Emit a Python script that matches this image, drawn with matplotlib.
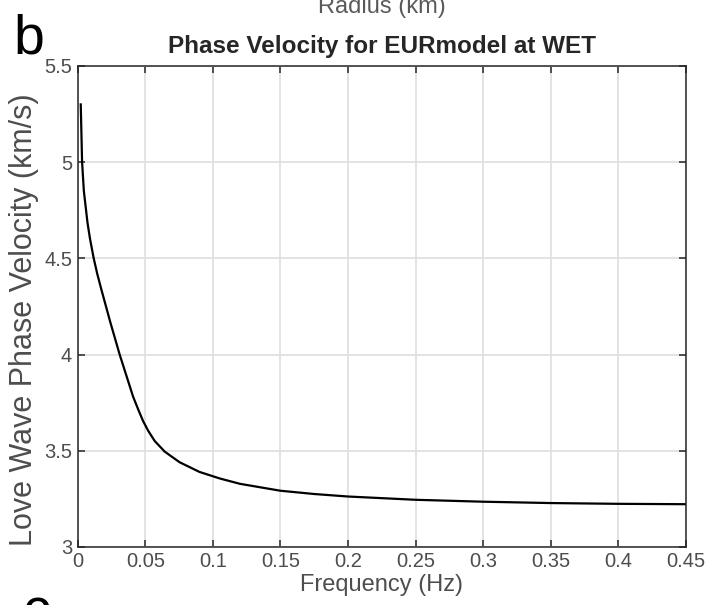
import matplotlib
matplotlib.use('Agg')
from matplotlib import pyplot as plt

# values
freq = [0.0022, 0.0027, 0.0032, 0.0045, 0.0072, 0.0091, 0.0118, 0.0144, 0.0175, 0.024,
        0.031, 0.036, 0.041, 0.045, 0.0483, 0.052, 0.057, 0.0644, 0.0754, 0.09,
        0.105, 0.12, 0.15, 0.175, 0.2, 0.25, 0.3, 0.35, 0.4, 0.45]
vel = [5.30, 5.15, 5.00, 4.85, 4.685, 4.60, 4.50, 4.42, 4.337, 4.17,
       4.00, 3.89, 3.78, 3.71, 3.655, 3.605, 3.55, 3.495, 3.44, 3.39,
       3.356, 3.328, 3.292, 3.275, 3.262, 3.245, 3.235, 3.228, 3.224, 3.222]
xticks = [0, 0.05, 0.1, 0.15, 0.2, 0.25, 0.3, 0.35, 0.4, 0.45]
xticklabels = ['0', '0.05', '0.1', '0.15', '0.2', '0.25', '0.3', '0.35', '0.4', '0.45']
yticks = [3, 3.5, 4, 4.5, 5, 5.5]
yticklabels = ['3', '3.5', '4', '4.5', '5', '5.5']

plt.rcParams['font.family'] = ['Liberation Sans', 'DejaVu Sans']

fig = plt.figure(figsize=(7.07, 6.05), dpi=100)
ax = fig.add_axes([0.110, 0.096, 0.860, 0.795])

ax.plot(freq, vel, color='black', linewidth=1.6)

ax.set_xlim(0, 0.45)
ax.set_ylim(3, 5.5)
ax.set_xticks(xticks)
ax.set_xticklabels(xticklabels)
ax.set_yticks(yticks)
ax.set_yticklabels(yticklabels)

ax.grid(True, color='#e0e0e0', linewidth=1.3)
ax.set_axisbelow(True)
for s in ax.spines.values():
    s.set_color('#262626')
    s.set_linewidth(1.1)
ax.tick_params(direction='in', length=5, width=1.1, top=True, right=True,
               color='#262626', labelcolor='#4d4d4d', labelsize=14.5, pad=4)

ax.set_xlabel('Frequency (Hz)', fontsize=17, color='#4d4d4d', labelpad=2)
ax.set_ylabel('Love Wave Phase Velocity (km/s)', fontsize=22, color='#4d4d4d')
ax.yaxis.set_label_coords(-0.064, 0.472)
ax.set_title('Phase Velocity for EURmodel at WET', fontsize=17.5, fontweight='bold',
             color='#262626', pad=9)

# neighbouring panel pieces cut by the crop
fig.text(382 / 707, 1 - 13 / 605, 'Radius (km)', fontsize=17, color='#5a5a5a',
         ha='center', va='baseline')
fig.text(13 / 707, 1 - 53 / 605, 'b', fontsize=40, color='black', ha='left', va='baseline')
fig.text(23 / 707, 1 - 628 / 605, 'c', fontsize=40, color='black', ha='left', va='baseline')

fig.savefig('out.png', dpi=100)
